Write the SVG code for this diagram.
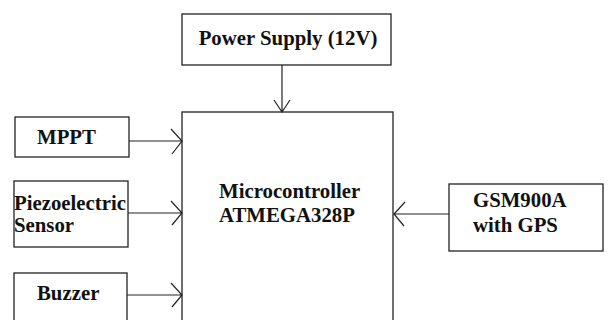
<svg xmlns="http://www.w3.org/2000/svg" width="610" height="320" viewBox="0 0 610 320">
<style>
.box{fill:#fff;stroke:#222;stroke-width:1.3}
.t{font-family:"Liberation Serif","Times New Roman",serif;font-weight:bold;font-size:20.8px;fill:#111}
.c{stroke:#222;stroke-width:1.2;fill:none}
</style>
<rect width="610" height="320" fill="#fff"/>
<g id="power"><rect class="box" x="182" y="14" width="209" height="51"/><text class="t" x="288" y="45" text-anchor="middle">Power Supply (12V)</text></g>
<g id="mcu"><rect class="box" x="182" y="112" width="211" height="220"/><text class="t" x="219" y="198">Microcontroller</text><text class="t" x="219" y="222">ATMEGA328P</text></g>
<g id="mppt"><rect class="box" x="15" y="117" width="114" height="40"/><text class="t" x="37" y="144">MPPT</text></g>
<g id="piezo"><rect class="box" x="14" y="181" width="114" height="66"/><text class="t" x="14" y="210">Piezoelectric</text><text class="t" x="14" y="232">Sensor</text></g>
<g id="buzzer"><rect class="box" x="14" y="273" width="113" height="55"/><text class="t" x="37" y="300">Buzzer</text></g>
<g id="gsm"><rect class="box" x="449" y="184" width="154" height="67"/><text class="t" x="473" y="207">GSM900A</text><text class="t" x="473" y="232">with GPS</text></g>
<g id="connectors">
<path class="c" d="M282 65V112M274 100L282 112L290 100"/>
<path class="c" d="M129 141H182M171 129L182 141L172 154"/>
<path class="c" d="M128 213H182M171 201L182 213L172 225"/>
<path class="c" d="M127 295H182M171 283L182 295L172 307"/>
<path class="c" d="M449 214H394M405 202L394 214L404 226"/>
</g>
</svg>
